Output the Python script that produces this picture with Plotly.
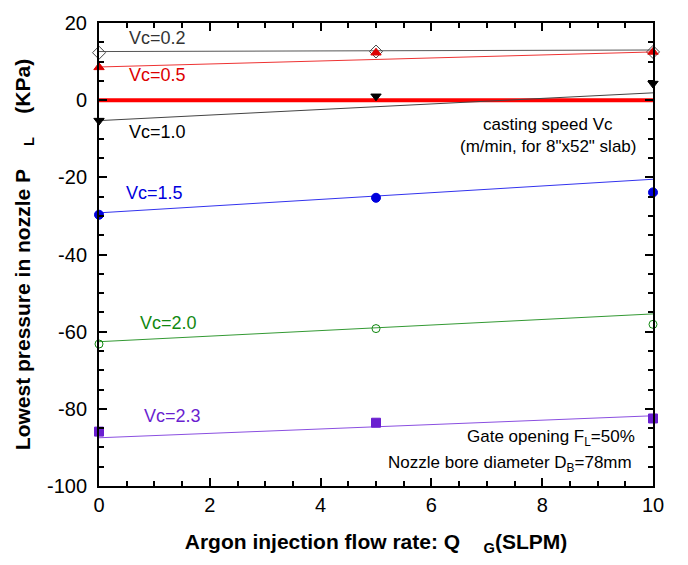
import plotly.graph_objects as go

# ---- data ----
flow_rate = [0, 5, 10]                     # Q_G (SLPM)
vc_labels = ["Vc=0.2", "Vc=0.5", "Vc=1.0", "Vc=1.5", "Vc=2.0", "Vc=2.3"]
p_vc02 = [12.3, 12.6, 12.5]
p_vc05 = [8.5, 12.3, 12.5]
p_vc10 = [-5.3, 1.0, 4.3]
p_vc15 = [-29.7, -25.3, -23.9]
p_vc20 = [-63.2, -59.2, -58.1]
p_vc23 = [-85.9, -83.6, -82.5]
# fitted trend lines (values at Q=0 and Q=10)
fit_x = [0, 10]
fit_vc02 = [12.6, 13.0]
fit_vc05 = [8.6, 12.5]
fit_vc10 = [-5.3, 1.9]
fit_vc15 = [-29.2, -20.5]
fit_vc20 = [-62.6, -55.4]
fit_vc23 = [-87.5, -81.8]
zero_line = [0, 0]
# tick labels
x_tickvals = [0, 2, 4, 6, 8, 10]
x_ticktext = ["0", "2", "4", "6", "8", "10"]
y_tickvals = [-100, -80, -60, -40, -20, 0, 20]
y_ticktext = ["-100", "-80", "-60", "-40", "-20", "0", "20"]

FONT = "Liberation Sans, Arial, Helvetica, sans-serif"

series = [
    (p_vc02, fit_vc02, "#444444", "#555555", "diamond-open", 10, vc_labels[0], 1.05, 16.2, "#333333"),
    (p_vc05, fit_vc05, "#dd0000", "#ee3333", "triangle-up", 9, vc_labels[1], 1.05, 6.4, "#dd0000"),
    (p_vc10, fit_vc10, "#000000", "#444444", "triangle-down", 9, vc_labels[2], 1.05, -8.2, "#000000"),
    (p_vc15, fit_vc15, "#0000dd", "#3333ee", "circle", 9, vc_labels[3], 1.0, -24.1, "#0000dd"),
    (p_vc20, fit_vc20, "#118811", "#339933", "circle-open", 8, vc_labels[4], 1.25, -57.7, "#118811"),
    (p_vc23, fit_vc23, "#6a1fd0", "#8a4fe0", "square", 9, vc_labels[5], 1.32, -81.8, "#6a1fd0"),
]

fig = go.Figure()

fig.add_trace(go.Scatter(x=fit_x, y=zero_line, mode="lines",
                         line=dict(color="#ff0000", width=4), showlegend=False,
                         cliponaxis=False))

annotations = []
for pts, fit, mcol, lcol, sym, msize, lab, lx, ly, tcol in series:
    fig.add_trace(go.Scatter(x=fit_x, y=fit, mode="lines",
                             line=dict(color=lcol, width=1), showlegend=False))
    fig.add_trace(go.Scatter(x=flow_rate, y=pts, mode="markers",
                             marker=dict(symbol=sym, size=msize, color=mcol,
                                         line=dict(color=mcol, width=1)),
                             showlegend=False, cliponaxis=False))
    annotations.append(dict(x=lx, y=ly, xref="x", yref="y", text=lab,
                            showarrow=False, xanchor="center", yanchor="middle",
                            font=dict(family=FONT, size=18, color=tcol)))

txt_font = dict(family=FONT, size=17, color="#000000")
annotations += [
    dict(x=8.1, y=-6.4, xref="x", yref="y", text="casting speed Vc", showarrow=False,
         xanchor="center", yanchor="middle", font=txt_font),
    dict(x=8.1, y=-12.1, xref="x", yref="y", text="(m/min, for 8\"x52\" slab)",
         showarrow=False, xanchor="center", yanchor="middle", font=txt_font),
    dict(x=9.72, y=-87.6, xref="x", yref="y", text="Gate opening F<sub>L</sub>=50%",
         showarrow=False, xanchor="right", yanchor="middle", font=txt_font),
    dict(x=9.66, y=-94.4, xref="x", yref="y",
         text="Nozzle bore diameter D<sub>B</sub>=78mm",
         showarrow=False, xanchor="right", yanchor="middle", font=txt_font),
]

axis_common = dict(showline=True, linecolor="black", linewidth=2, mirror="allticks",
                   ticks="inside", ticklen=8, tickwidth=2, tickcolor="black",
                   showgrid=False, zeroline=False,
                   tickfont=dict(family=FONT, size=20, color="black"))

fig.update_layout(
    width=688, height=565,
    margin=dict(l=99, r=35, t=18, b=79),
    plot_bgcolor="white", paper_bgcolor="white",
    font=dict(family=FONT, color="black"),
    annotations=annotations,
    xaxis=dict(range=[0, 10], tickmode="array", tickvals=x_tickvals, ticktext=x_ticktext,
               minor=dict(ticks="inside", dtick=0.5, tick0=0, ticklen=5, tickwidth=2,
                          tickcolor="black"),
               title=dict(text="<b>Argon injection flow rate: Q    <sub>G</sub>(SLPM)</b>",
                          font=dict(family=FONT, size=21), standoff=19),
               **axis_common),
    yaxis=dict(range=[-100, 20], tickmode="array", tickvals=y_tickvals, ticktext=y_ticktext,
               minor=dict(ticks="inside", dtick=5, tick0=0, ticklen=5, tickwidth=2,
                          tickcolor="black"),
               title=dict(text="<b>Lowest pressure in nozzle P    <sub>L</sub>    (KPa)</b>",
                          font=dict(family=FONT, size=21), standoff=11),
               ticklabelstandoff=6,
               **axis_common),
)

fig.write_html("out.html")
